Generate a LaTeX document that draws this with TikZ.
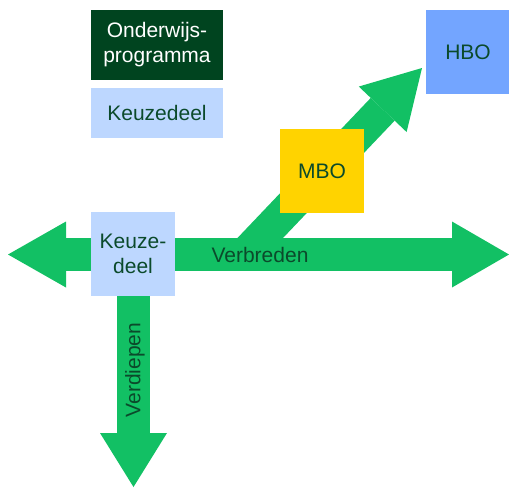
\documentclass[tikz,border=0pt]{standalone}
\usepackage{fontspec}
\setmainfont{Liberation Sans}
\usetikzlibrary{arrows.meta}

\definecolor{donkergroen}{HTML}{00441F}
\definecolor{lichtblauw}{HTML}{BDD7FF}
\definecolor{hboblauw}{HTML}{73A5FF}
\definecolor{mbogeel}{HTML}{FFD300}
\definecolor{pijlgroen}{HTML}{12C064}
\definecolor{tekstgroen}{HTML}{0B4A2B}

\begin{document}
\begin{tikzpicture}[x=0.5pt,y=-0.5pt,
  blok/.style={rectangle,inner sep=0pt,minimum width=42pt,minimum height=42pt,align=center,text=tekstgroen,font=\fontsize{10.5}{12.5}\selectfont},
  pijl/.style={draw=pijlgroen,line width=16.5pt},
  kop/.style={Triangle[length=#1,width=33pt,line width=0pt]}]
\useasboundingbox (0,0) rectangle (509,488);

% eindpunten van de pijlen
\coordinate (links) at (8,254.5);
\coordinate (rechts) at (509,254.5);
\coordinate (onder) at (133.5,487);
\coordinate (schuin) at (245,254);
\coordinate (top) at (422,68);

\draw[pijl,{Triangle[length=29pt,width=33pt,line width=0pt]}-{Triangle[length=28.5pt,width=33pt,line width=0pt]}] (links) -- (rechts);
\draw[pijl,-{Triangle[length=27pt,width=33.5pt,line width=0pt]}] (133.5,254) -- (onder);
\draw[pijl,-{Triangle[length=28.5pt,width=33pt,line width=0pt]}] (schuin) -- (top);

\node[text=tekstgroen,font=\fontsize{10.5}{12.5}\selectfont] (verbreden) at (260,255) {Verbreden};
\node[text=tekstgroen,font=\fontsize{10.5}{12.5}\selectfont,rotate=90] (verdiepen) at (135,370) {Verdiepen};

% legenda
\node[blok,fill=donkergroen,text=white,minimum width=66pt,minimum height=35pt] (programma) at (157,45) {Onderwijs-\\programma};
\node[blok,fill=lichtblauw,minimum width=66pt,minimum height=25pt] (keuzedeel) at (157,113) {Keuzedeel};

% blokken
\node[blok,fill=hboblauw] (hbo) at (468,52) {HBO};
\node[blok,fill=mbogeel] (mbo) at (322,171) {MBO};
\node[blok,fill=lichtblauw] (keuze) at (133,254) {Keuze-\\deel};
\end{tikzpicture}
\end{document}
